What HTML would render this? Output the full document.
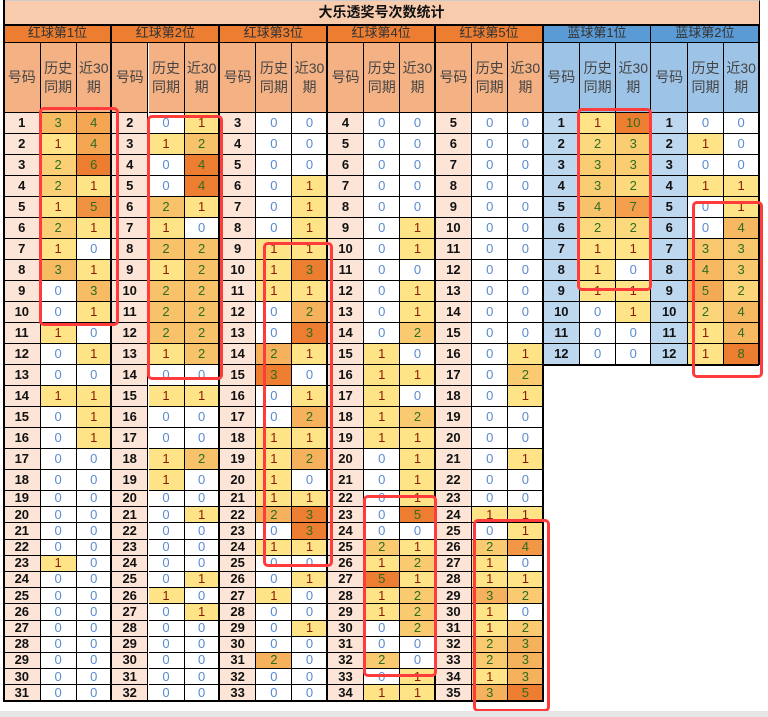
<!DOCTYPE html>
<html><head><meta charset="utf-8">
<style>
body{margin:0;width:768px;height:717px;background:#fff;position:relative;overflow:hidden;font-family:"Liberation Sans","Noto Sans CJK SC",sans-serif;}
.c{position:absolute;box-sizing:border-box;border-right:1px solid #000;border-bottom:1px solid #000;display:flex;align-items:center;justify-content:center;font-size:13px;line-height:1.1;text-align:center;}
.box{position:absolute;box-sizing:border-box;border:3.5px solid #ff3b3b;border-radius:5px;}
.vl{position:absolute;background:#000;}
</style></head><body>
<div id="t"></div>
<script>
const groupTitles=["红球第1位","红球第2位","红球第3位","红球第4位","红球第5位","蓝球第1位","蓝球第2位"];
const startNums=[1,2,3,4,5,1,1];
const rowCounts=[31,31,31,31,31,12,12];
const g1Hist=[3,1,2,2,1,2,1,3,0,0,1,0,0,1,0,0,0,0,0,0,0,0,1,0,0,0,0,0,0,0,0];
const g1Rec=[4,4,6,1,5,1,0,1,3,1,0,1,0,1,1,1,0,0,0,0,0,0,0,0,0,0,0,0,0,0,0];
const g2Hist=[0,1,0,0,2,1,2,1,2,2,2,1,0,1,0,0,1,1,0,0,0,0,0,0,1,0,0,0,0,0,0];
const g2Rec=[1,2,4,4,1,0,2,2,2,2,2,2,0,1,0,0,2,0,0,1,0,0,0,1,0,1,0,0,0,0,0];
const g3Hist=[0,0,0,0,0,0,1,1,1,0,0,2,3,0,0,1,1,1,1,2,0,1,0,0,1,0,0,0,2,0,0];
const g3Rec=[0,0,0,1,1,1,1,3,1,2,3,1,0,1,2,1,2,0,1,3,3,1,0,1,0,0,1,0,0,0,0];
const g4Hist=[0,0,0,0,0,0,0,0,0,0,0,1,1,1,1,1,0,0,0,0,0,2,1,5,1,1,0,0,2,0,1];
const g4Rec=[0,0,0,0,0,1,1,0,1,1,2,0,1,0,2,1,1,1,1,5,0,1,2,1,2,2,2,0,0,1,1];
const g5Hist=[0,0,0,0,0,0,0,0,0,0,0,0,0,0,0,0,0,0,0,1,0,2,1,1,3,1,1,2,2,1,3];
const g5Rec=[0,0,0,0,0,0,0,0,0,0,0,1,2,1,0,0,1,0,0,1,1,4,0,1,2,0,2,3,3,3,5];
const b1Hist=[1,2,3,3,4,2,1,1,1,0,0,0];
const b1Rec=[10,3,3,2,7,2,1,0,1,1,0,0];
const b2Hist=[0,1,0,1,0,0,3,4,5,2,1,1];
const b2Rec=[0,0,0,1,1,4,3,3,2,4,4,8];
const hists=[g1Hist,g2Hist,g3Hist,g4Hist,g5Hist,b1Hist,b2Hist];
const recs=[g1Rec,g2Rec,g3Rec,g4Rec,g5Rec,b1Rec,b2Rec];

const T=document.getElementById('t');
const X0=4,GW=107.9,CW=[36.6,36,35.3];
function rowY(i){return i<18?113+i*21:113+18*21+(i-18)*16.2;}
function rowH(i){return i<18?21:16.2;}
function mk(x,y,w,h,txt,css){const d=document.createElement('div');d.className='c';d.style.cssText=`left:${x}px;top:${y}px;width:${w}px;height:${h}px;`+(css||'');d.innerHTML=txt;T.appendChild(d);return d;}
function mix(a,b,t){const p=s=>[1,3,5].map(i=>parseInt(s.substr(i,2),16));const A=p(a),B=p(b);return 'rgb('+A.map((v,i)=>Math.round(v+(B[i]-v)*t)).join(',')+')';}
function cellColor(v,max){if(v===0)return '#fff';const t=max>1?(v-1)/(max-1):0;return mix('#fee486','#ed7d31',t);}
function txtColor(v){return v===0?'#5a8ad0':(v===1?'#8b1a00':'#2c6e1c');}

const tt=mk(X0,0,760-X0,25,'大乐透奖号次数统计','background:#f8cbad;font-weight:bold;font-size:14px;color:#111;border-top:1px solid #ccc;');



for(let g=0;g<7;g++){
  const blue=g>=5;
  const gx=X0+g*GW;
  const gh=mk(gx,25,GW,18,groupTitles[g],`background:${blue?'#5b9bd5':'#ed7d31'};color:#333;font-size:13px;`);
  
  
  const subs=['号码','历史<br>同期','近30<br>期'];
  let cx=gx;
  for(let k=0;k<3;k++){
    const s=mk(cx,43,CW[k],70,subs[k],`background:${blue?'#9dc3e6':'#f4b183'};color:#444;font-size:14px;line-height:1.35;`);
    
    
    cx+=CW[k];
  }
  const hist=hists[g],rec=recs[g];
  const gmax=Math.max(...hist,...rec);
  for(let i=0;i<rowCounts[g];i++){
    const y=rowY(i),h=rowH(i);
    let x=gx;
    const n=mk(x,y,CW[0],h,String(startNums[g]+i),`background:${blue?'#bdd7ee':'#fce4d6'};font-weight:bold;color:#111;`);
    
    
    x+=CW[0];
    const hv=hist[i];
    const hc=mk(x,y,CW[1],h,String(hv),`background:${cellColor(hv,gmax)};color:${txtColor(hv)};`);
    
    
    x+=CW[1];
    const rv=rec[i];
    const rc=mk(x,y,CW[2],h,String(rv),`background:${cellColor(rv,gmax)};color:${txtColor(rv)};`);
    
    
  }
  const bottom=rowY(rowCounts[g]);
  const v=document.createElement('div');v.className='vl';
  v.style.cssText=`left:${gx+GW-1.5}px;top:25px;width:2px;height:${bottom-25}px;`;
  
  
  T.appendChild(v);
  const hb=document.createElement('div');hb.className='vl';
  hb.style.cssText=`left:${gx}px;top:${bottom-1.5}px;width:${GW}px;height:2px;`;
  
  
  T.appendChild(hb);
}
const lb=document.createElement('div');lb.className='vl';
lb.style.cssText=`left:${X0-1}px;top:0;width:2px;height:${rowY(31)}px;`;


T.appendChild(lb);
const hb2=document.createElement('div');hb2.className='vl';
hb2.style.cssText=`left:${X0}px;top:24px;width:756px;height:2px;`;


T.appendChild(hb2);
</script>
<div class="box" style="left:39px;top:107px;width:80px;height:219px"></div>
<div class="box" style="left:147px;top:115px;width:76px;height:265px"></div>
<div class="box" style="left:263px;top:242px;width:70px;height:325px"></div>
<div class="box" style="left:363px;top:495px;width:74px;height:182px"></div>
<div class="box" style="left:473px;top:519px;width:77px;height:193px"></div>
<div class="box" style="left:577px;top:108px;width:75px;height:183px"></div>
<div class="box" style="left:692px;top:201px;width:71px;height:177px"></div>
<div style="position:absolute;left:0;top:711px;width:768px;height:6px;background:#e6e6e6"></div>
</body></html>
